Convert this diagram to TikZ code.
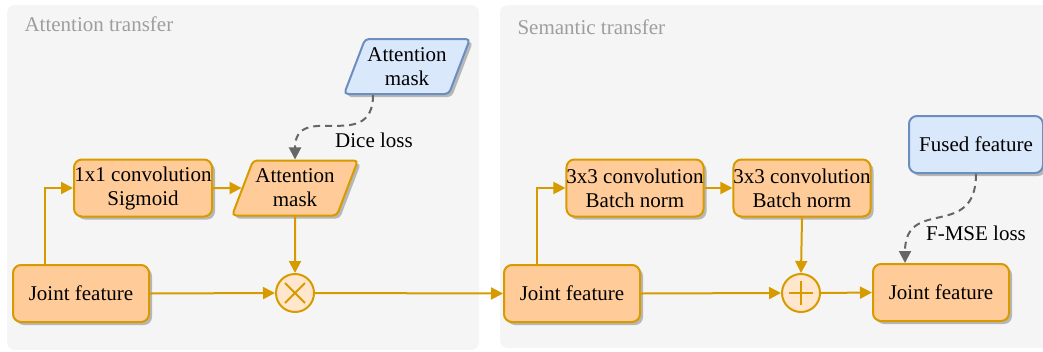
\documentclass[tikz,border=0pt]{standalone}
\usepackage{fontspec}
\setmainfont{Liberation Serif}
\usetikzlibrary{shapes.geometric,shadows,arrows.meta}
\definecolor{orangefill}{HTML}{FFCC99}
\definecolor{orangeline}{HTML}{D79B00}
\definecolor{lightorange}{HTML}{FFE6CC}
\definecolor{bluefill}{HTML}{DAE8FC}
\definecolor{blueline}{HTML}{6C8EBF}
\definecolor{dashgray}{HTML}{666666}
\definecolor{titlegray}{HTML}{9E9E9E}
\definecolor{panelgray}{HTML}{F5F5F5}

\begin{document}
\begin{tikzpicture}[x=1pt,y=-1pt,
		every node/.style={font=\fontsize{21}{24}\selectfont},
		panel/.style={fill=panelgray,rounded corners=8pt},
		paneltitle/.style={anchor=west,text=titlegray},
		shadowed/.style={drop shadow={shadow xshift=3pt,shadow yshift=-3pt,fill=black,opacity=0.25}},
		box/.style={draw=orangeline,fill=orangefill,line width=2pt,rounded corners=8pt,minimum width=136pt,minimum height=57pt,inner xsep=0pt,align=center,shadowed},
		maskshape/.style={trapezium,trapezium left angle=66,trapezium right angle=114,trapezium stretches=true,minimum width=126pt,minimum height=55pt,inner xsep=0pt,line width=2pt,rounded corners=4pt,align=center,shadowed},
		op/.style={circle,draw=orangeline,fill=lightorange,line width=2pt,minimum size=38pt,inner sep=0pt},
		timesop/.style={op,path picture={\draw[orangeline,line width=2pt] (path picture bounding box.center) +(-10,-10) -- +(10,10) +(-10,10) -- +(10,-10);}},
		plusop/.style={op,path picture={\draw[orangeline,line width=2pt] (path picture bounding box.center) +(-12,0) -- +(12,0) +(0,-12) -- +(0,12);}},
		flow/.style={draw=orangeline,line width=2pt,-{Triangle[length=12pt,width=12pt]}},
		loss/.style={draw=dashgray,line width=2pt,dash pattern=on 7pt off 5pt,-{Triangle[length=12pt,width=12pt]}}]
		\useasboundingbox (0,0) rectangle (1043,351);
		\fill[panel] (7,5) rectangle (479,350);
		\fill[panel] (500,5) rectangle (1060,348);
		\node[paneltitle] (atitle) at (21,24) {Attention transfer};
		\node[paneltitle] (stitle) at (514,27) {Semantic transfer};
		\node[box] (jfa) at (81,293.5) {Joint feature};
		\node[box,minimum width=138pt] (conva) at (143,188) {1x1 convolution\\Sigmoid};
		\node[maskshape,draw=orangeline,fill=orangefill] (maska) at (295,188) {Attention\\mask};
		\node[maskshape,draw=blueline,fill=bluefill] (maskb) at (407,66.5) {Attention\\mask};
		\node[timesop] (mult) at (295,293) {};
		\node (dice) at (374,140) {Dice loss};
		\node[box] (jfb) at (572,293.5) {Joint feature};
		\node[box] (convb) at (635,188) {3x3 convolution\\Batch norm};
		\node[box] (convc) at (802,188) {3x3 convolution\\Batch norm};
		\node[plusop] (sum) at (801,293) {};
		\node[box] (jfc) at (941,292.5) {Joint feature};
		\node[box,draw=blueline,fill=bluefill,minimum width=134pt] (fused) at (976,144.5) {Fused feature};
		\node (fmse) at (976,233) {F-MSE loss};
		\draw[flow] ([xshift=33pt]jfa.north west) |- (conva.west);
		\draw[flow] (conva.east) -- (maska.west);
		\draw[flow] (maska.south) -- (mult.north);
		\draw[flow] (jfa.east) -- (mult.west);
		\draw[flow] (mult.east) -- (jfb.west);
		\draw[flow] ([xshift=34pt]jfb.north west) |- (convb.west);
		\draw[flow] (convb.east) -- (convc.west);
		\draw[flow] (convc.south) -- (sum.north);
		\draw[flow] (jfb.east) -- (sum.west);
		\draw[flow] (sum.east) -- (jfc.west);
		\draw[loss] ([xshift=-34pt]maskb.south) to[out=-90,in=90,looseness=1.5] (maska.north);
		\draw[loss] (fused.south) to[out=-90,in=90,looseness=1.5] ([xshift=33pt]jfc.north west);
\end{tikzpicture}
\end{document}
